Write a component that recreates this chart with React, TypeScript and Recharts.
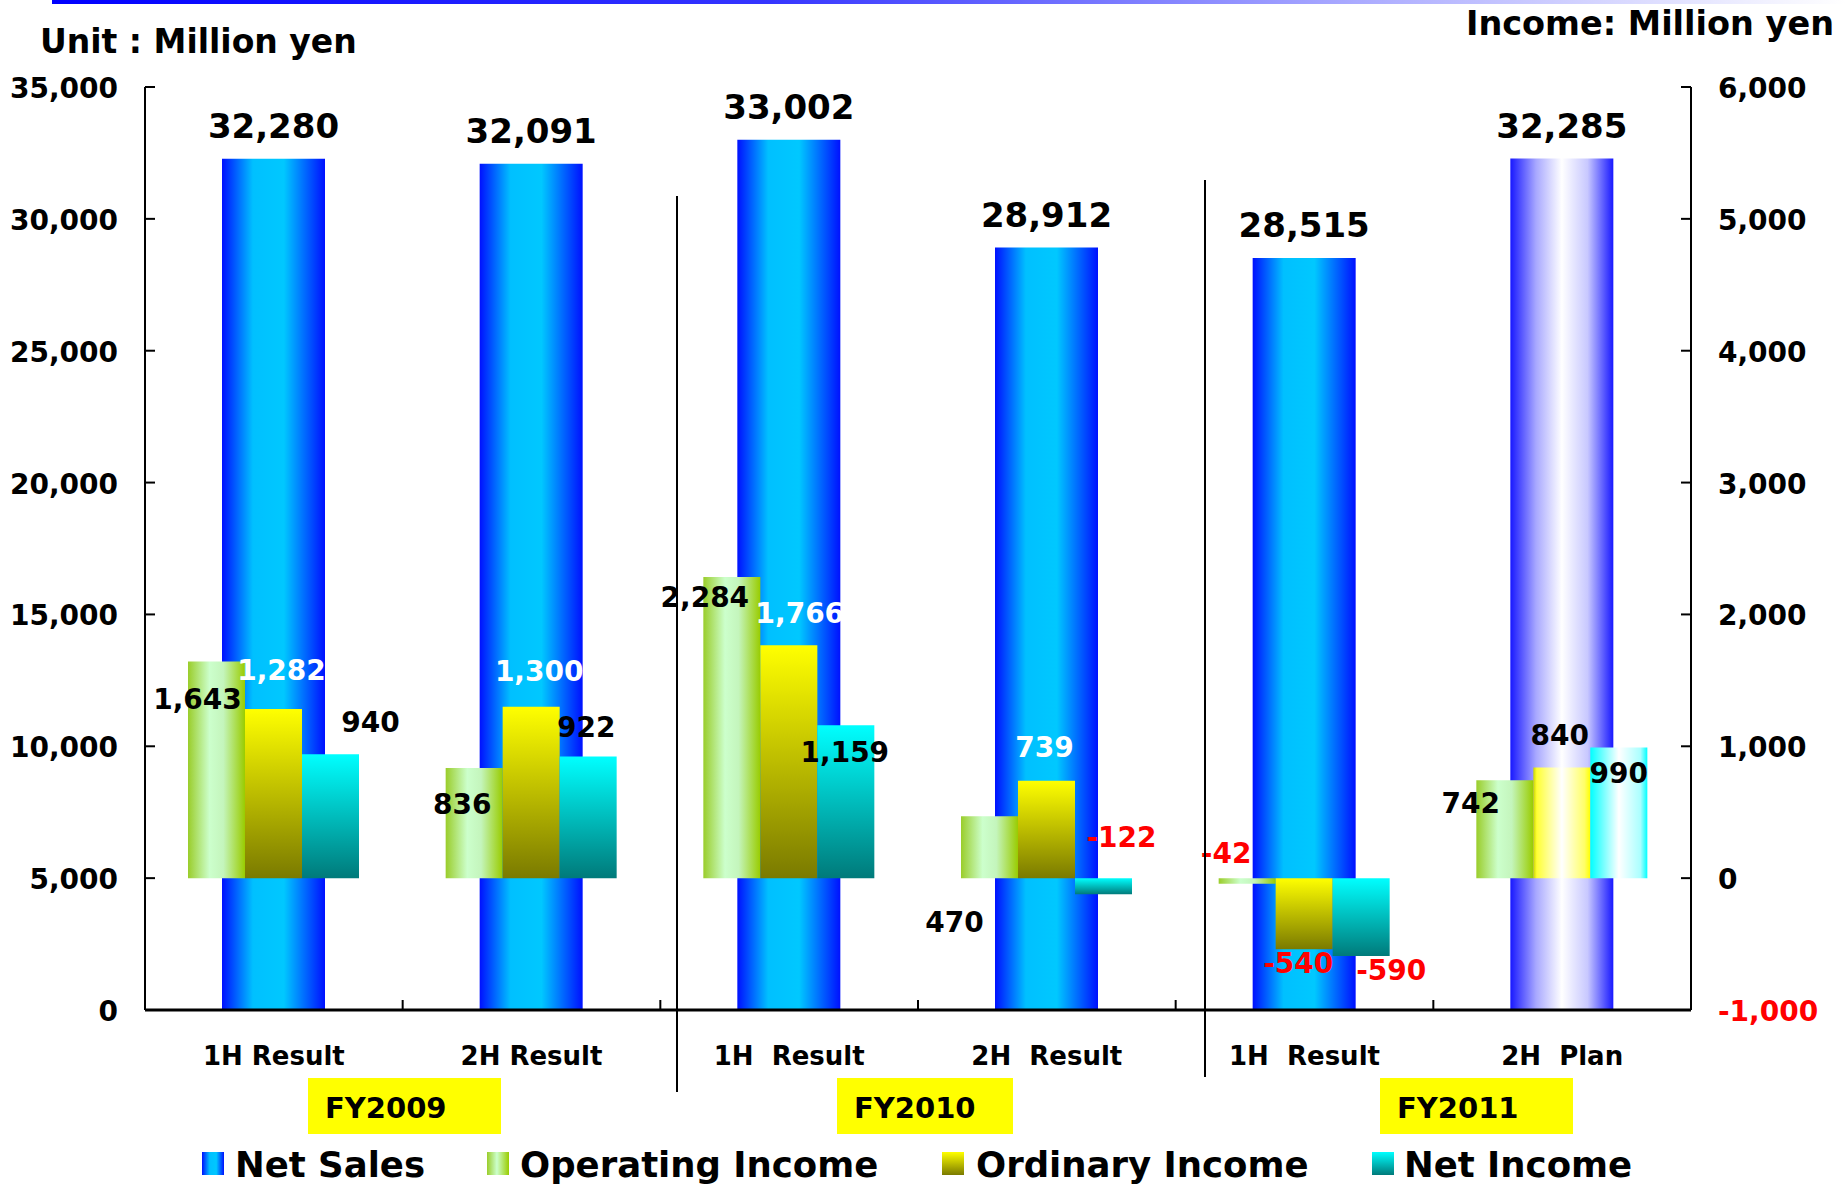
import React from 'react';
import { BarChart, Bar, XAxis, YAxis, LabelList, Cell } from 'recharts';

const periods = ['1H Result', '2H Result', '1H  Result', '2H  Result', '1H  Result', '2H  Plan'];
const netSales = [32280, 32091, 33002, 28912, 28515, 32285];
const operatingIncome = [1643, 836, 2284, 470, -42, 742];
const ordinaryIncome = [1282, 1300, 1766, 739, -540, 840];
const netIncome = [940, 922, 1159, -122, -590, 990];

const salesTicks = [0, 5000, 10000, 15000, 20000, 25000, 30000, 35000];
const incomeTicks = [-1000, 0, 1000, 2000, 3000, 4000, 5000, 6000];
const fiscalYears = ['FY2009', 'FY2010', 'FY2011'];
const PLAN = 5;

const W = 1845;
const H = 1185;
const FONT = '"DejaVu Sans", Verdana, sans-serif';
const MARGIN = { top: 87, right: 14, bottom: 115, left: 15 };
const LEFT_AXIS_W = 130;
const RIGHT_AXIS_W = 140;
const PLOT_W = W - MARGIN.left - MARGIN.right - LEFT_AXIS_W - RIGHT_AXIS_W;
const BAND = PLOT_W / periods.length;

const rows = periods.map((period, i) => ({
  period,
  netSales: netSales[i],
  operating: operatingIncome[i],
  ordinary: ordinaryIncome[i],
  net: netIncome[i],
}));

// hand placement of the income labels: [dx from bar centre, dy from bar end]
const opNudge = [[-19, 47], [-12, 46], [-27, 30], [-35, 116], [-21, -21], [-34, 33]];
const ordNudge = [[8, -29], [8, -26], [11, -22], [-2, -24], [-6, 24], [-2, -22]];
const netNudge = [[40, -22], [-2, -20], [-1, 37], [18, -47], [30, 24], [0, 35]];
const ordColors = ['#fff', '#fff', '#fff', '#fff', '#000', '#000'];
const blackColors = ['#000', '#000', '#000', '#000', '#000', '#000'];

const fmt = (v: number) => v.toLocaleString('en-US');

const SalesLabel = (props: any) => {
  const { x, y, width, height, value } = props;
  const top = Math.min(y, y + height);
  return (
    <text x={x + width / 2} y={top - 21} textAnchor="middle" fontFamily={FONT} fontWeight="bold" fontSize={34} fill="#000">
      {fmt(value)}
    </text>
  );
};

const incomeLabel = (nudge: number[][], colors: string[]) => (props: any) => {
  const { x, y, width, height, value, index } = props;
  const end = value < 0 ? Math.max(y, y + height) : Math.min(y, y + height);
  const [dx, dy] = nudge[index];
  return (
    <text
      x={x + width / 2 + dx}
      y={end + dy}
      textAnchor="middle"
      fontFamily={FONT}
      fontWeight="bold"
      fontSize={28}
      fill={value < 0 ? '#ff0000' : colors[index]}
    >
      {fmt(value)}
    </text>
  );
};

// category caption under the band, plus an inward tick on the band's left edge
const XTick = (props: any) => {
  const { x, y, payload, index } = props;
  const edge = x - BAND / 2;
  return (
    <g>
      {index > 0 && <line x1={edge} x2={edge} y1={y} y2={y - 10} stroke="#000" strokeWidth={2} />}
      <text x={x} y={y + 55} textAnchor="middle" fontFamily={FONT} fontWeight="bold" fontSize={26} fill="#000" style={{ whiteSpace: 'pre' }}>
        {payload.value}
      </text>
    </g>
  );
};

const LeftTick = (props: any) => {
  const { x, y, payload } = props;
  return (
    <g>
      <line x1={x} x2={x + 10} y1={y} y2={y} stroke="#000" strokeWidth={2} />
      <text x={x - 27} y={y + 11} textAnchor="end" fontFamily={FONT} fontWeight="bold" fontSize={28} fill="#000">
        {fmt(payload.value)}
      </text>
    </g>
  );
};

const RightTick = (props: any) => {
  const { x, y, payload } = props;
  return (
    <g>
      <line x1={x - 10} x2={x} y1={y} y2={y} stroke="#000" strokeWidth={2} />
      <text x={x + 27} y={y + 11} textAnchor="start" fontFamily={FONT} fontWeight="bold" fontSize={28} fill={payload.value < 0 ? '#ff0000' : '#000'}>
        {fmt(payload.value)}
      </text>
    </g>
  );
};

const legendItems = [
  { name: 'Net Sales', fill: 'url(#lgSales)', icon: 202, text: 235 },
  { name: 'Operating Income', fill: 'url(#lgOp)', icon: 487, text: 520 },
  { name: 'Ordinary Income', fill: 'url(#lgOrd)', icon: 942, text: 976 },
  { name: 'Net Income', fill: 'url(#lgNet)', icon: 1372, text: 1404 },
];

const fyBoxes = [
  { x: 308, w: 193 },
  { x: 837, w: 176 },
  { x: 1380, w: 193 },
];

export default function App() {
  return (
    <div style={{ position: 'absolute', left: 0, top: 0, width: W, height: H, background: '#fff', overflow: 'hidden' }}>
      <BarChart width={W} height={H} data={rows} margin={MARGIN} barGap={0}>
        <defs>
          <linearGradient id="salesFill" x1="0" y1="0" x2="1" y2="0">
            <stop offset="0%" stopColor="#0010ff" />
            <stop offset="30%" stopColor="#00c0ff" />
            <stop offset="60%" stopColor="#00c8ff" />
            <stop offset="100%" stopColor="#0010ff" />
          </linearGradient>
          <linearGradient id="salesPlan" x1="0" y1="0" x2="1" y2="0">
            <stop offset="0%" stopColor="#1818ff" />
            <stop offset="25%" stopColor="#a8a8ff" />
            <stop offset="50%" stopColor="#ffffff" />
            <stop offset="75%" stopColor="#c8c8ff" />
            <stop offset="100%" stopColor="#1818ff" />
          </linearGradient>
          <linearGradient id="opFill" x1="0" y1="0" x2="1" y2="0">
            <stop offset="0%" stopColor="#9acd2a" />
            <stop offset="38%" stopColor="#ccffcc" />
            <stop offset="62%" stopColor="#c4f5bc" />
            <stop offset="100%" stopColor="#99cc00" />
          </linearGradient>
          <linearGradient id="ordFill" x1="0" y1="0" x2="0" y2="1">
            <stop offset="0%" stopColor="#ffff00" />
            <stop offset="100%" stopColor="#7a7a00" />
          </linearGradient>
          <linearGradient id="ordPlan" x1="0" y1="0" x2="1" y2="0">
            <stop offset="0%" stopColor="#c8d400" />
            <stop offset="6%" stopColor="#ffff33" />
            <stop offset="50%" stopColor="#ffffff" />
            <stop offset="90%" stopColor="#ffff66" />
            <stop offset="100%" stopColor="#ffff00" />
          </linearGradient>
          <linearGradient id="netFill" x1="0" y1="0" x2="0" y2="1">
            <stop offset="0%" stopColor="#00ffff" />
            <stop offset="100%" stopColor="#007a7a" />
          </linearGradient>
          <linearGradient id="netPlan" x1="0" y1="0" x2="1" y2="0">
            <stop offset="0%" stopColor="#00ffff" />
            <stop offset="50%" stopColor="#ffffff" />
            <stop offset="88%" stopColor="#aaffff" />
            <stop offset="100%" stopColor="#00ffff" />
          </linearGradient>
        </defs>

        <XAxis xAxisId="income" dataKey="period" hide height={0} />
        <XAxis
          xAxisId="sales"
          dataKey="period"
          interval={0}
          height={60}
          tickSize={0}
          tickMargin={0}
          tickLine={false}
          axisLine={{ stroke: '#000', strokeWidth: 3 }}
          tick={(p: any) => <XTick {...p} />}
        />
        <YAxis
          yAxisId="sales"
          domain={[0, 35000]}
          allowDataOverflow
          ticks={salesTicks}
          interval={0}
          width={LEFT_AXIS_W}
          tickSize={0}
          tickMargin={0}
          tickLine={false}
          axisLine={{ stroke: '#000', strokeWidth: 2 }}
          tick={(p: any) => <LeftTick {...p} />}
        />
        <YAxis
          yAxisId="income"
          orientation="right"
          domain={[-1000, 6000]}
          allowDataOverflow
          ticks={incomeTicks}
          interval={0}
          width={RIGHT_AXIS_W}
          tickSize={0}
          tickMargin={0}
          tickLine={false}
          axisLine={{ stroke: '#000', strokeWidth: 2 }}
          tick={(p: any) => <RightTick {...p} />}
        />

        <Bar xAxisId="sales" yAxisId="sales" dataKey="netSales" barSize={103} isAnimationActive={false}>
          {rows.map((_, i) => (
            <Cell key={i} fill={i === PLAN ? 'url(#salesPlan)' : 'url(#salesFill)'} />
          ))}
          <LabelList dataKey="netSales" content={SalesLabel} />
        </Bar>
        <Bar xAxisId="income" yAxisId="income" dataKey="operating" barSize={57} fill="url(#opFill)" isAnimationActive={false}>
          <LabelList dataKey="operating" content={incomeLabel(opNudge, blackColors)} />
        </Bar>
        <Bar xAxisId="income" yAxisId="income" dataKey="ordinary" barSize={57} isAnimationActive={false}>
          {rows.map((_, i) => (
            <Cell key={i} fill={i === PLAN ? 'url(#ordPlan)' : 'url(#ordFill)'} />
          ))}
          <LabelList dataKey="ordinary" content={incomeLabel(ordNudge, ordColors)} />
        </Bar>
        <Bar xAxisId="income" yAxisId="income" dataKey="net" barSize={57} isAnimationActive={false}>
          {rows.map((_, i) => (
            <Cell key={i} fill={i === PLAN ? 'url(#netPlan)' : 'url(#netFill)'} />
          ))}
          <LabelList dataKey="net" content={incomeLabel(netNudge, blackColors)} />
        </Bar>
      </BarChart>

      <svg width={W} height={H} style={{ position: 'absolute', left: 0, top: 0, pointerEvents: 'none' }}>
        <defs>
          <linearGradient id="topRule" x1="0" y1="0" x2="1" y2="0">
            <stop offset="0%" stopColor="#0000ff" />
            <stop offset="40%" stopColor="#3535ff" />
            <stop offset="72%" stopColor="#a8a8ff" />
            <stop offset="100%" stopColor="#ffffff" />
          </linearGradient>
          <linearGradient id="lgSales" x1="0" y1="0" x2="1" y2="0">
            <stop offset="0%" stopColor="#0010ff" />
            <stop offset="35%" stopColor="#00c0ff" />
            <stop offset="65%" stopColor="#00c8ff" />
            <stop offset="100%" stopColor="#0010ff" />
          </linearGradient>
          <linearGradient id="lgOp" x1="0" y1="0" x2="1" y2="0">
            <stop offset="0%" stopColor="#9acd2a" />
            <stop offset="45%" stopColor="#ccffcc" />
            <stop offset="100%" stopColor="#99cc00" />
          </linearGradient>
          <linearGradient id="lgOrd" x1="0" y1="0" x2="0" y2="1">
            <stop offset="0%" stopColor="#ffff00" />
            <stop offset="100%" stopColor="#7a7a00" />
          </linearGradient>
          <linearGradient id="lgNet" x1="0" y1="0" x2="0" y2="1">
            <stop offset="0%" stopColor="#00ffff" />
            <stop offset="100%" stopColor="#007a7a" />
          </linearGradient>
        </defs>

        <rect x={52} y={0} width={W - 52} height={4} fill="url(#topRule)" />

        <text x={40} y={53} fontFamily={FONT} fontWeight="bold" fontSize={33} fill="#000">
          Unit : Million yen
        </text>
        <text x={1834} y={35} textAnchor="end" fontFamily={FONT} fontWeight="bold" fontSize={33.5} fill="#000">
          Income: Million yen
        </text>

        {/* fiscal year dividers */}
        <line x1={677} x2={677} y1={196} y2={1092} stroke="#000" strokeWidth={2} />
        <line x1={1205} x2={1205} y1={180} y2={1077} stroke="#000" strokeWidth={2} />

        {fiscalYears.map((fy, i) => (
          <g key={fy}>
            <rect x={fyBoxes[i].x} y={1078} width={fyBoxes[i].w} height={56} fill="#ffff00" />
            <text x={fyBoxes[i].x + 17} y={1118} fontFamily={FONT} fontWeight="bold" fontSize={29} fill="#000">
              {fy}
            </text>
          </g>
        ))}

        {legendItems.map((item) => (
          <g key={item.name}>
            <rect x={item.icon} y={1152} width={22} height={23} fill={item.fill} />
            <text x={item.text} y={1177} fontFamily={FONT} fontWeight="bold" fontSize={35.5} fill="#000">
              {item.name}
            </text>
          </g>
        ))}
      </svg>
    </div>
  );
}
